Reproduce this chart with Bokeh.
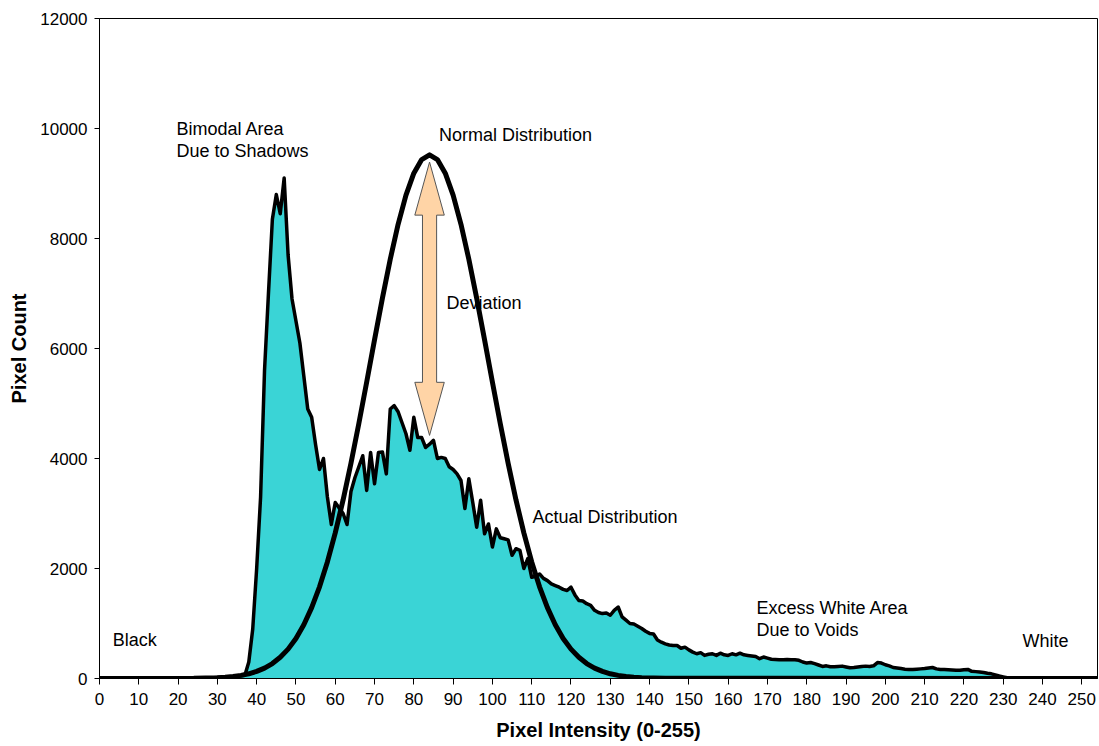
from bokeh.plotting import figure
from bokeh.models import Range1d, FixedTicker
from bokeh.core.properties import value
from bokeh.embed import file_html
from bokeh.resources import INLINE

# ---------------- data ----------------
intensity = list(range(256))

pixel_count = (
    [0] * 20 +
    [5, 5, 5, 5, 10, 10, 10, 10, 15, 15] +                                   # 20-29
    [20, 20, 25, 30, 30, 40, 50, 60, 300, 900] +                             # 30-39
    [2000, 3300, 5600, 7000, 8350, 8800, 8450, 9100, 7700, 6900] +           # 40-49
    [6500, 6100, 5500, 4900, 4750, 4250, 3800, 4000, 3300, 2800] +           # 50-59
    [3200, 3100, 3000, 2800, 3400, 3650, 3850, 4050, 3420, 4110] +           # 60-69
    [3540, 4110, 4120, 3720, 4900, 4960, 4850, 4650, 4450, 4150] +           # 70-79
    [4750, 4380, 4380, 4200, 4260, 4330, 4000, 4020, 4000, 3850] +           # 80-89
    [3800, 3720, 3600, 3090, 3630, 3200, 2750, 3240, 2630, 2810] +           # 90-99
    [2390, 2720, 2560, 2540, 2520, 2240, 2360, 2330, 2000, 2180] +           # 100-109
    [1840, 1860, 1900, 1820, 1780, 1720, 1690, 1660, 1620, 1600] +           # 110-119
    [1660, 1520, 1420, 1410, 1360, 1330, 1240, 1200, 1180, 1190] +           # 120-129
    [1150, 1240, 1300, 1120, 1060, 1000, 990, 950, 910, 860] +               # 130-139
    [820, 810, 700, 660, 630, 610, 600, 600, 550, 570] +                     # 140-149
    [520, 480, 450, 470, 420, 440, 450, 420, 460, 430] +                     # 150-159
    [420, 450, 430, 460, 430, 420, 410, 400, 360, 390] +                     # 160-169
    [370, 350, 345, 340, 340, 345, 340, 340, 330, 300] +                     # 170-179
    [280, 290, 270, 245, 220, 230, 215, 215, 220, 225] +                     # 180-189
    [210, 195, 200, 210, 220, 225, 220, 230, 290, 280] +                     # 190-199
    [250, 230, 200, 190, 180, 170, 165, 165, 170, 175] +                     # 200-209
    [180, 190, 200, 175, 165, 165, 160, 155, 150, 150] +                     # 210-219
    [160, 165, 130, 125, 120, 110, 95, 85, 65, 45] +                         # 220-229
    [30, 15, 5] + [0] * 23                                                   # 230-255
)

normal_x = [0, 24] + list(range(30, 139, 2)) + [144, 255]
normal_y = [0, 3,
            15, 23, 37, 57, 86, 129, 189, 272, 385, 534, 729, 978, 1288, 1667,
            2119, 2647, 3247, 3914, 4634, 5389, 6158, 6913, 7623, 8258, 8788,
            9187, 9435, 9520,
            9435, 9187, 8788, 8258, 7623, 6913, 6158, 5389, 4634, 3914, 3247,
            2647, 2119, 1667, 1288, 978, 729, 534, 385, 272, 189, 129, 86, 57,
            37, 23, 15,
            3, 0]

x_ticks = list(range(0, 251, 10))
y_ticks = list(range(0, 12001, 2000))

label_text = ["Bimodal Area", "Due to Shadows", "Normal Distribution", "Deviation",
              "Actual Distribution", "Excess White Area", "Due to Voids", "Black", "White"]
label_x = [19.6, 19.6, 86.4, 88.3, 110.2, 167.2, 167.2, 3.4, 234.9]
label_y = [10000, 9590, 9880, 6820, 2940, 1285, 880, 695, 690]

# ---------------- figure ----------------
FONT = "Liberation Sans"
CYAN = "#3AD4D6"
PEACH = "#FFD4A6"

p = figure(width=1099, height=746,
           x_range=Range1d(0, 254), y_range=Range1d(0, 12000),
           output_backend="svg", toolbar_location=None,
           min_border_left=99, min_border_right=2,
           min_border_top=18, min_border_bottom=68)

p.background_fill_color = "white"
p.border_fill_color = "white"
p.outline_line_color = "black"
p.outline_line_width = 1
p.xgrid.visible = False
p.ygrid.visible = False

for ax in (p.xaxis[0], p.yaxis[0]):
    ax.axis_line_color = "black"
    ax.major_tick_line_color = "black"
    ax.minor_tick_line_color = None
    ax.major_tick_in = 0
    ax.major_label_text_font = FONT
    ax.major_label_text_font_size = "17px"
    ax.major_label_text_color = "black"
    ax.axis_label_text_font = FONT
    ax.axis_label_text_font_size = "20px"
    ax.axis_label_text_font_style = "bold"
    ax.axis_label_text_color = "black"

p.xaxis[0].ticker = FixedTicker(ticks=x_ticks)
p.yaxis[0].ticker = FixedTicker(ticks=y_ticks)
p.xaxis[0].axis_label = "Pixel Intensity (0-255)"
p.yaxis[0].axis_label = "Pixel Count"
p.xaxis[0].major_tick_out = 6
p.xaxis[0].major_label_standoff = 8
p.xaxis[0].axis_label_standoff = 11
p.yaxis[0].major_tick_out = 5
p.yaxis[0].major_label_standoff = 7
p.yaxis[0].axis_label_standoff = 7

# histogram (actual distribution)
p.varea(x=intensity, y1=[0] * len(intensity), y2=pixel_count, fill_color=CYAN)
p.line(x=intensity, y=pixel_count, line_color="black", line_width=3.5, line_join="round")

# normal distribution
p.line(x=normal_x, y=normal_y, line_color="black", line_width=5, line_join="round")

# deviation arrow (between normal peak and actual value at the mean)
cx = normal_x[normal_y.index(max(normal_y))]
top = max(normal_y) - 130
bot = pixel_count[cx] + 160
hs, hh, hl = 1.8, 3.75, 965
ax_pts = [cx, cx + hh, cx + hs, cx + hs, cx + hh, cx, cx - hh, cx - hs, cx - hs, cx - hh]
ay_pts = [top, top - hl, top - hl, bot + hl, bot + hl, bot, bot + hl, bot + hl, top - hl, top - hl]
p.patch(x=ax_pts, y=ay_pts, fill_color=PEACH, line_color="#555555", line_width=1)

# annotations
p.text(x=label_x, y=label_y, text=label_text,
       text_font=value(FONT), text_font_size="18px", text_color="black",
       text_align="left", text_baseline="alphabetic")

open("out.html", "w").write(file_html(p, INLINE))
